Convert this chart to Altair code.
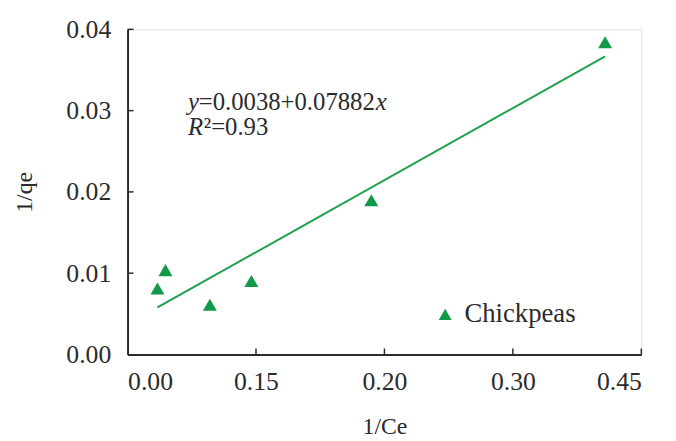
import altair as alt
import pandas as pd

# data
x_vals = [0.0233, 0.0295, 0.0641, 0.0964, 0.1898, 0.3718]
y_vals = [0.00811, 0.01037, 0.00612, 0.00903, 0.01897, 0.03842]
series = ["Chickpeas"] * len(x_vals)

x_tick_values = [0.0, 0.1, 0.2, 0.3, 0.4]
x_tick_labels = ["0.00", "0.15", "0.20", "0.30", "0.45"]
y_tick_values = [0.0, 0.01, 0.02, 0.03, 0.04]

eq_label = "=0.0038+0.07882"
r2_label = "²=0.93"

W, H = 520, 329
GREEN = "#13994a"
LINE_GREEN = "#1ea050"
DARK = "#2b2b2b"
FONT = "Liberation Serif"

df = pd.DataFrame({"x": x_vals, "y": y_vals, "series": series})

label_list = "[" + ",".join("'%s'" % s for s in x_tick_labels) + "]"

xscale = alt.Scale(domain=[0, 0.4], nice=False, zero=False)
yscale = alt.Scale(domain=[0, 0.04], nice=False)

x_axis = alt.Axis(values=x_tick_values, labelExpr=label_list + "[round(datum.value*10)]",
                  ticks=False, grid=False, labelPadding=14, title="1/Ce", titlePadding=21)
y_axis = alt.Axis(values=y_tick_values, format=".2f", ticks=False, grid=False,
                  labelPadding=17, title="1/qe", titlePadding=30)

base = alt.Chart(df)

points = base.mark_point(shape="triangle-up", filled=True, size=200, opacity=1).encode(
    x=alt.X("x:Q", scale=xscale, axis=x_axis),
    y=alt.Y("y:Q", scale=yscale, axis=y_axis),
    color=alt.Color("series:N", scale=alt.Scale(domain=["Chickpeas"], range=[GREEN]),
                    legend=alt.Legend(orient="none", legendX=308, legendY=275, title=None,
                                      symbolType="triangle-up", symbolSize=170,
                                      symbolStrokeWidth=0, symbolFillColor=GREEN,
                                      labelFont=FONT, labelFontSize=27, labelColor=DARK,
                                      labelOffset=6)),
)

fit = base.transform_regression("x", "y").mark_line(color=LINE_GREEN, strokeWidth=2).encode(
    x=alt.X("x:Q", scale=xscale, axis=x_axis), y=alt.Y("y:Q", scale=yscale, axis=y_axis))

xt = pd.DataFrame({"v": x_tick_values[1:]})
yt = pd.DataFrame({"v": y_tick_values[1:]})
x_ticks = alt.Chart(xt).mark_rule(color=DARK, strokeWidth=1.5).encode(
    x=alt.X("v:Q", scale=xscale, axis=x_axis), y=alt.value(H), y2=alt.value(H - 6))
y_ticks = alt.Chart(yt).mark_rule(color=DARK, strokeWidth=1.5).encode(
    y=alt.Y("v:Q", scale=yscale, axis=y_axis), x=alt.value(0), x2=alt.value(6))

anno = pd.DataFrame({"x": [0.047], "y": [0.0301]})
ab = alt.Chart(anno)
enc = dict(x=alt.X("x:Q", scale=xscale, axis=x_axis), y=alt.Y("y:Q", scale=yscale, axis=y_axis))
TS = 25
t_y = ab.mark_text(text="y", font=FONT, fontSize=TS, fontStyle="italic", align="left",
                   baseline="alphabetic", color=DARK).encode(**enc)
t_eq = ab.mark_text(text=eq_label, font=FONT, fontSize=TS, align="left", baseline="alphabetic",
                    color=DARK, dx=11).encode(**enc)
t_x = ab.mark_text(text="x", font=FONT, fontSize=TS, fontStyle="italic", align="left",
                   baseline="alphabetic", color=DARK, dx=190).encode(**enc)
t_r = ab.mark_text(text="R", font=FONT, fontSize=TS, fontStyle="italic", align="left",
                   baseline="alphabetic", color=DARK, dy=25).encode(**enc)
t_r2 = ab.mark_text(text=r2_label, font=FONT, fontSize=TS, align="left", baseline="alphabetic",
                    color=DARK, dx=16, dy=25).encode(**enc)

chart = alt.layer(fit, points, x_ticks, y_ticks, t_y, t_eq, t_x, t_r, t_r2).properties(
    width=W, height=H,
    autosize=alt.AutoSizeParams(type="none"),
    padding={"left": 121, "top": 19, "right": 27, "bottom": 85},
).configure_view(stroke=None).configure(background="white", font=FONT).configure_axis(
    labelFont=FONT, labelFontSize=26, labelColor=DARK, titleFont=FONT, titleFontSize=24,
    titleFontWeight="normal", titleColor=DARK, domainColor=DARK, domainWidth=2
)

chart.save("out.html", embed_options={"renderer": "svg", "actions": False})
